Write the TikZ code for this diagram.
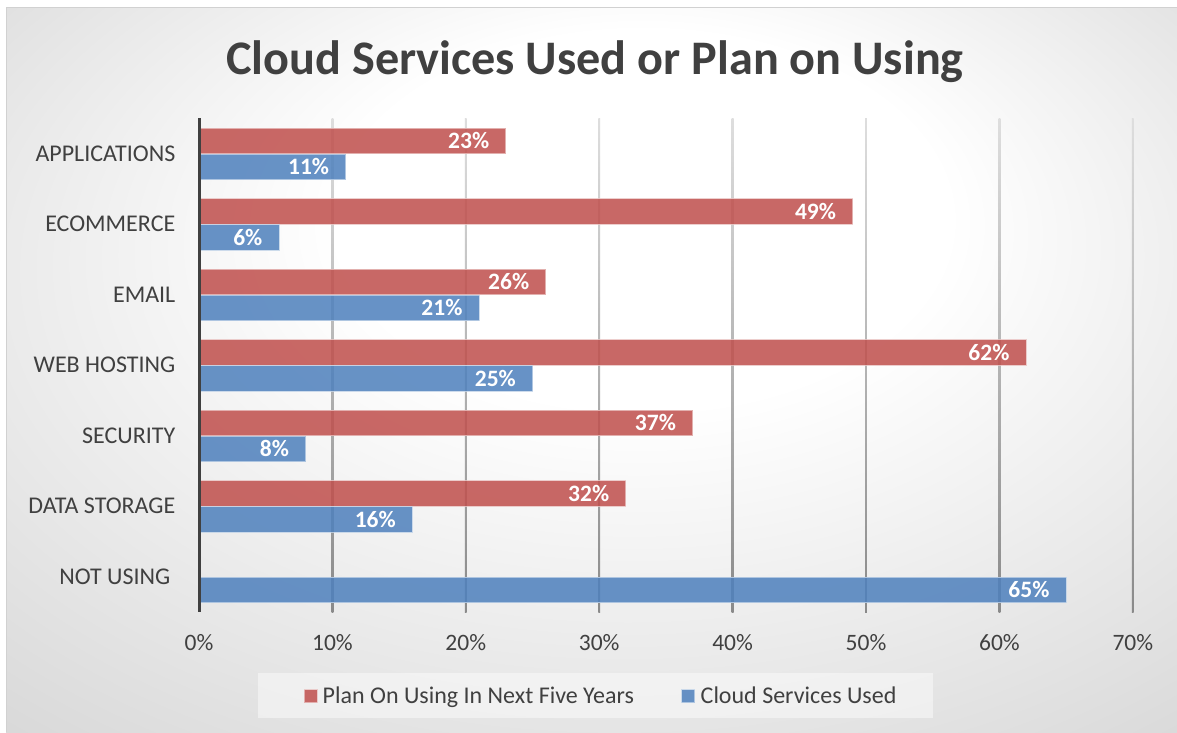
\documentclass[tikz,border=0pt]{standalone}
\usepackage{fontspec}
\setmainfont{Carlito}
\definecolor{txt}{HTML}{404040}
\definecolor{redbar}{HTML}{C0504D}
\definecolor{bluebar}{HTML}{4F81BD}
\pgfdeclareradialshading{chartbg}{\pgfpoint{3bp}{14bp}}{color(0bp)=(white); color(13bp)=(white); color(50bp)=(black!22)}
\tikzset{
  catlabel/.style={anchor=base east, text=txt, font=\fontsize{24}{28}\selectfont, inner sep=0pt},
  ticklabel/.style={anchor=base, text=txt, font=\fontsize{23.5}{28}\selectfont, inner sep=0pt},
  barlabel/.style={anchor=base east, text=white, font=\fontsize{23.5}{28}\selectfont\bfseries, inner sep=0pt},
  redbarstyle/.style={fill=redbar, fill opacity=0.86, draw=redbar!35!white, draw opacity=0.8, line width=0.8pt},
  bluebarstyle/.style={fill=bluebar, fill opacity=0.86, draw=bluebar!35!white, draw opacity=0.8, line width=0.8pt},
  legendtext/.style={anchor=base west, text=txt, font=\fontsize{24}{28}\selectfont, inner sep=0pt},
}
\begin{document}
\begin{tikzpicture}[x=1pt,y=-1pt]
\useasboundingbox (0,0) rectangle (1177,732);
\fill[white] (0,0) rectangle (1177,732);
\shade[shading=chartbg] (6,7) rectangle (1177,732);
\draw[black!18, line width=1pt] (6,732) -- (6,7) -- (1177,7);
% title
\node[anchor=base, text=txt, font=\fontsize{48.2}{58}\selectfont\bfseries, inner sep=0pt] (title) at (595,74) {Cloud Services Used or Plan on Using};
% gridlines
\foreach \v in {10,20,...,70}{
  \shade[top color=black!13, bottom color=black!46] ({199+13.34*\v-0.9},118) rectangle ({199+13.34*\v+0.9},612);
}
% bars
\foreach \nm/\r/\b [count=\i from 0] in {APPLICATIONS/23/11, ECOMMERCE/49/6, EMAIL/26/21, WEB HOSTING/62/25, SECURITY/37/8, DATA STORAGE/32/16, NOT USING/0/65}{
  \pgfmathsetmacro{\top}{118.3+70.5*\i}
  \ifnum\r>0
    \path[redbarstyle] (200.5,{\top+10}) rectangle ({199+13.34*\r},{\top+35.5});
    \node[barlabel] (r\i) at ({199+13.34*\r-16.5},{\top+22.75+7.6}) {\r\%};
  \fi
  \path[bluebarstyle] (200.5,{\top+36}) rectangle ({199+13.34*\b},{\top+61.5});
  \node[barlabel] (b\i) at ({199+13.34*\b-16.5},{\top+48.75+7.6}) {\b\%};
}
% category labels
\node[catlabel] (c0) at (175.5,{118.3+35.25+7.7}) {APPLICATIONS};
\node[catlabel] (c1) at (175.5,{118.3+70.5+35.25+7.7}) {ECOMMERCE};
\node[catlabel] (c2) at (175.5,{118.3+141+35.25+7.7}) {EMAIL};
\node[catlabel] (c3) at (175.5,{118.3+211.5+35.25+7.7}) {WEB HOSTING};
\node[catlabel] (c4) at (175.5,{118.3+282+35.25+7.7}) {SECURITY};
\node[catlabel] (c5) at (175.5,{118.3+352.5+35.25+7.7}) {DATA STORAGE};
\node[catlabel] (c6) at (170.5,{118.3+423+35.25+7.7}) {NOT USING};
% axis
\draw[txt, line width=3pt] (199.3,118) -- (199.3,612);
% tick labels
\foreach \v [count=\k from 0] in {0,10,...,70}{
  \node[ticklabel] (t\k) at ({199+13.34*\v},650) {\v\%};
}
% legend
\fill[white, fill opacity=0.45] (258,673) rectangle (933,718);
\path[redbarstyle] (304,689.5) rectangle (317,702.5);
\node[legendtext] (l1) at (322.5,703) {Plan On Using In Next Five Years};
\path[bluebarstyle] (681.5,689.5) rectangle (694.5,702.5);
\node[legendtext] (l2) at (700.5,703) {Cloud Services Used};
\end{tikzpicture}
\end{document}
